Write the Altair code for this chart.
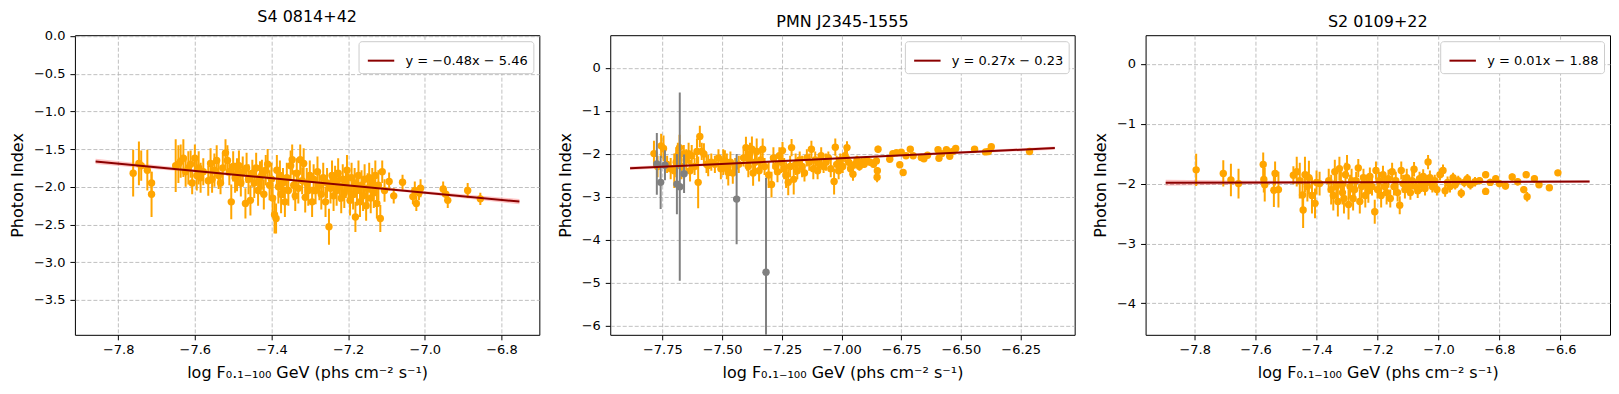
import altair as alt
import pandas as pd

FONT = "DejaVu Sans"
ORANGE = "#FFA500"
GRAY = "#808080"
DARKRED = "#8B0000"
XTITLE = "log F₀.₁₋₁₀₀ GeV (phs cm⁻² s⁻¹)"

# ---------------- Panel 1: S4 0814+42 ----------------
p1_title = "S4 0814+42"
p1_label = "y = −0.48x − 5.46"
p1_pts = [
    (-7.761,-1.82,0.31),(-7.746,-1.69,0.29),(-7.740,-1.72,0.20),(-7.724,-1.78,0.27),(-7.713,-1.95,0.15),(-7.713,-2.10,0.30),
    (-7.650,-1.72,0.35),(-7.643,-1.70,0.25),(-7.637,-1.66,0.22),(-7.630,-1.62,0.25),(-7.624,-1.80,0.20),(-7.617,-1.75,0.22),
    (-7.611,-1.70,0.18),(-7.607,-1.95,0.15),(-7.600,-1.62,0.18),(-7.595,-1.85,0.20),(-7.590,-1.75,0.22),(-7.585,-1.88,0.20),
    (-7.578,-1.80,0.18),(-7.565,-1.92,0.20),(-7.559,-1.69,0.20),(-7.555,-1.90,0.18),(-7.549,-1.78,0.22),(-7.543,-1.65,0.20),
    (-7.538,-1.85,0.18),(-7.533,-1.95,0.15),(-7.527,-1.75,0.20),(-7.520,-1.55,0.18),(-7.515,-1.65,0.20),(-7.510,-1.80,0.18),
    (-7.505,-2.20,0.23),(-7.500,-1.73,0.20),(-7.495,-1.88,0.20),(-7.490,-1.84,0.22),(-7.485,-1.72,0.20),(-7.480,-1.95,0.18),
    (-7.475,-1.80,0.20),(-7.468,-2.22,0.20),(-7.465,-1.75,0.20),(-7.460,-1.90,0.20),(-7.455,-2.18,0.20),(-7.450,-1.82,0.18),
    (-7.445,-1.95,0.20),(-7.440,-1.75,0.20),(-7.435,-2.05,0.20),(-7.430,-1.88,0.22),(-7.425,-1.84,0.20),(-7.420,-2.10,0.20),
    (-7.415,-1.78,0.20),(-7.410,-1.70,0.20),(-7.405,-1.98,0.20),(-7.400,-1.90,0.22),(-7.397,-2.15,0.20),(-7.392,-2.37,0.25),
    (-7.388,-2.42,0.20),(-7.386,-1.78,0.20),(-7.382,-2.00,0.22),(-7.378,-1.85,0.20),(-7.375,-2.10,0.25),(-7.370,-1.95,0.20),
    (-7.365,-2.20,0.20),(-7.360,-1.88,0.20),(-7.356,-2.05,0.20),(-7.350,-1.72,0.20),(-7.346,-1.64,0.20),(-7.342,-1.98,0.20),
    (-7.338,-2.12,0.20),(-7.334,-1.82,0.20),(-7.330,-2.02,0.20),(-7.325,-1.64,0.20),(-7.320,-1.92,0.18),(-7.316,-1.69,0.20),
    (-7.312,-2.14,0.20),(-7.308,-1.95,0.20),(-7.304,-2.05,0.20),(-7.300,-1.85,0.20),(-7.294,-2.20,0.20),(-7.290,-1.90,0.20),
    (-7.285,-2.05,0.18),(-7.280,-1.80,0.20),(-7.275,-1.98,0.20),(-7.270,-2.10,0.20),(-7.265,-1.88,0.20),(-7.259,-2.20,0.20),
    (-7.255,-1.95,0.20),(-7.250,-2.53,0.24),(-7.246,-2.02,0.20),(-7.242,-1.85,0.20),(-7.238,-2.12,0.20),(-7.234,-1.92,0.20),
    (-7.230,-2.05,0.20),(-7.226,-1.82,0.20),(-7.222,-2.00,0.20),(-7.218,-2.15,0.20),(-7.214,-1.90,0.20),(-7.210,-2.08,0.20),
    (-7.206,-1.95,0.20),(-7.203,-1.78,0.20),(-7.199,-2.02,0.20),(-7.195,-2.18,0.20),(-7.191,-1.88,0.20),(-7.187,-2.10,0.20),
    (-7.183,-1.95,0.20),(-7.181,-2.40,0.20),(-7.177,-2.05,0.20),(-7.173,-1.85,0.20),(-7.169,-2.20,0.20),(-7.165,-1.98,0.20),
    (-7.161,-2.12,0.20),(-7.157,-1.90,0.20),(-7.153,-2.25,0.20),(-7.149,-2.02,0.20),(-7.145,-1.88,0.20),(-7.141,-2.15,0.20),
    (-7.137,-1.95,0.20),(-7.133,-2.08,0.20),(-7.129,-1.85,0.20),(-7.125,-2.22,0.20),(-7.121,-1.98,0.20),(-7.116,-2.42,0.18),
    (-7.111,-1.80,0.15),(-7.105,-2.05,0.15),(-7.093,-1.93,0.12),(-7.081,-2.12,0.10),(-7.058,-1.94,0.10),(-7.031,-2.13,0.10),
    (-7.026,-2.05,0.12),(-7.022,-2.22,0.10),(-7.015,-2.08,0.10),(-7.011,-2.02,0.12),(-6.952,-2.03,0.10),(-6.945,-2.10,0.08),
    (-6.940,-2.18,0.10),(-6.888,-2.05,0.10),(-6.855,-2.16,0.08),
]
p1_gray = []
p1_line_x = [-7.859, -6.753]
p1_line_y = [-1.664, -2.196]
p1_band_x = [-7.859, -7.6, -7.3, -7.0, -6.753]
p1_band_lo = [-1.699, -1.811, -1.946, -2.097, -2.231]
p1_band_hi = [-1.629, -1.767, -1.920, -2.057, -2.161]
p1_xdom = [-7.913, -6.701]
p1_ydom = [-3.963, 0.01]
p1_xticks = [-7.8, -7.6, -7.4, -7.2, -7.0, -6.8]
p1_yticks = [0.0, -0.5, -1.0, -1.5, -2.0, -2.5, -3.0, -3.5]

# ---------------- Panel 2: PMN J2345-1555 ----------------
p2_title = "PMN J2345-1555"
p2_label = "y = 0.27x − 0.23"
p2_pts = [
    (-7.785,-2.00,0.30),(-7.770,-2.30,0.25),(-7.755,-1.82,0.28),(-7.745,-1.88,0.30),(-7.730,-2.25,0.20),(-7.715,-2.35,0.25),
    (-7.700,-2.40,0.40),(-7.692,-2.20,0.35),(-7.685,-2.05,0.30),(-7.678,-1.86,0.30),(-7.670,-2.30,0.30),(-7.660,-2.00,0.20),
    (-7.650,-2.15,0.25),(-7.640,-2.00,0.25),(-7.634,-2.40,0.25),(-7.627,-2.05,0.25),(-7.615,-2.30,0.20),(-7.605,-1.95,0.30),
    (-7.600,-2.67,0.60),(-7.593,-1.60,0.25),(-7.585,-1.95,0.20),(-7.576,-2.01,0.25),(-7.565,-2.25,0.20),(-7.558,-2.28,0.25),
    (-7.545,-2.20,0.20),(-7.530,-2.25,0.20),(-7.515,-2.10,0.20),(-7.505,-2.35,0.25),(-7.495,-2.20,0.30),(-7.488,-2.17,0.25),
    (-7.480,-2.30,0.30),(-7.474,-2.44,0.30),(-7.465,-2.20,0.25),(-7.455,-2.45,0.25),(-7.445,-2.30,0.20),(-7.430,-2.25,0.20),
    (-7.410,-2.10,0.20),(-7.400,-1.86,0.25),(-7.395,-2.10,0.30),(-7.390,-2.30,0.25),(-7.383,-2.00,0.25),(-7.375,-1.90,0.30),
    (-7.370,-2.45,0.30),(-7.362,-2.20,0.25),(-7.355,-1.95,0.30),(-7.345,-2.40,0.25),(-7.338,-2.15,0.25),(-7.330,-1.90,0.25),
    (-7.322,-2.30,0.20),(-7.305,-2.50,0.30),(-7.293,-2.72,0.30),(-7.285,-2.10,0.25),(-7.275,-2.30,0.20),(-7.268,-2.42,0.25),
    (-7.260,-2.05,0.20),(-7.252,-2.20,0.25),(-7.247,-1.93,0.20),(-7.240,-2.35,0.25),(-7.232,-2.50,0.30),(-7.223,-2.67,0.30),
    (-7.215,-2.30,0.25),(-7.209,-1.86,0.20),(-7.200,-2.60,0.35),(-7.192,-2.25,0.25),(-7.185,-2.40,0.20),(-7.175,-2.15,0.20),
    (-7.165,-2.30,0.25),(-7.155,-2.45,0.20),(-7.145,-2.10,0.20),(-7.135,-2.20,0.20),(-7.126,-1.90,0.20),(-7.118,-2.35,0.25),
    (-7.110,-2.15,0.20),(-7.100,-2.40,0.20),(-7.092,-2.25,0.20),(-7.085,-2.05,0.20),(-7.075,-2.30,0.15),(-7.065,-2.20,0.20),
    (-7.055,-2.10,0.15),(-7.045,-2.35,0.20),(-7.031,-2.65,0.30),(-7.026,-1.85,0.20),(-7.020,-2.25,0.20),(-7.012,-2.40,0.20),
    (-7.005,-2.15,0.15),(-6.995,-2.30,0.15),(-6.985,-2.05,0.15),(-6.977,-1.86,0.15),(-6.970,-2.20,0.15),(-6.962,-2.35,0.15),
    (-6.952,-2.48,0.15),(-6.945,-2.25,0.10),(-6.935,-2.15,0.10),(-6.925,-2.30,0.10),(-6.915,-2.20,0.10),(-6.905,-2.25,0.08),
    (-6.895,-2.15,0.08),(-6.880,-2.20,0.08),(-6.866,-2.25,0.08),(-6.854,-2.17,0.08),(-6.850,-2.40,0.08),(-6.851,-2.55,0.12),
    (-6.847,-1.90,0.08),(-6.798,-2.13,0.06),(-6.785,-2.00,0.06),(-6.770,-1.98,0.06),(-6.756,-2.26,0.06),(-6.750,-1.97,0.06),
    (-6.742,-2.44,0.08),(-6.730,-2.05,0.06),(-6.712,-1.90,0.05),(-6.700,-2.05,0.05),(-6.666,-2.09,0.05),(-6.655,-2.12,0.05),
    (-6.640,-2.04,0.05),(-6.596,-1.91,0.05),(-6.592,-2.11,0.05),(-6.580,-2.00,0.05),(-6.561,-1.91,0.05),(-6.547,-2.06,0.05),
    (-6.535,-1.95,0.05),(-6.522,-1.88,0.05),(-6.443,-1.90,0.05),(-6.397,-1.96,0.05),(-6.385,-1.95,0.05),(-6.373,-1.84,0.05),
    (-6.213,-1.95,0.05),
]
p2_gray = [
    (-7.773,-2.24,0.72),(-7.757,-2.67,0.62),(-7.739,-2.27,0.35),(-7.689,-2.71,0.70),(-7.677,-2.77,2.19),
    (-7.659,-2.47,0.45),(-7.439,-3.06,1.05),(-7.316,-4.76,2.20),
]
p2_line_x = [-7.885, -6.107]
p2_line_y = [-2.343, -1.872]
p2_band_x = [-7.885, -7.5, -7.1, -6.6, -6.107]
p2_band_lo = [-2.383, -2.266, -2.150, -2.027, -1.912]
p2_band_hi = [-2.303, -2.216, -2.120, -1.977, -1.832]
p2_xdom = [-7.968, -6.024]
p2_ydom = [-6.22, 0.757]
p2_xticks = [-7.75, -7.5, -7.25, -7.0, -6.75, -6.5, -6.25]
p2_yticks = [0, -1, -2, -3, -4, -5, -6]

# ---------------- Panel 3: S2 0109+22 ----------------
p3_title = "S2 0109+22"
p3_label = "y = 0.01x − 1.88"
p3_pts = [
    (-7.795,-1.77,0.27),(-7.706,-1.83,0.22),(-7.681,-1.94,0.27),(-7.656,-2.00,0.25),(-7.575,-1.68,0.20),(-7.573,-1.93,0.22),
    (-7.570,-2.02,0.28),(-7.536,-1.83,0.20),(-7.540,-2.11,0.28),(-7.525,-2.10,0.30),
    (-7.476,-1.86,0.15),(-7.465,-1.80,0.25),(-7.455,-1.95,0.30),(-7.446,-2.19,0.28),(-7.444,-2.44,0.30),(-7.438,-1.85,0.30),
    (-7.430,-2.05,0.25),(-7.425,-1.90,0.28),(-7.415,-2.20,0.30),(-7.405,-2.33,0.25),(-7.400,-1.98,0.20),(-7.390,-2.00,0.20),
    (-7.360,-1.95,0.20),(-7.352,-2.10,0.25),(-7.345,-2.20,0.25),(-7.340,-1.80,0.20),(-7.335,-2.05,0.20),(-7.330,-2.30,0.25),
    (-7.325,-1.75,0.20),(-7.320,-2.00,0.20),(-7.315,-2.15,0.20),(-7.310,-2.25,0.25),(-7.305,-1.85,0.20),(-7.300,-1.72,0.20),
    (-7.295,-2.35,0.25),(-7.290,-2.05,0.20),(-7.285,-1.95,0.20),(-7.280,-2.25,0.20),(-7.275,-2.10,0.20),(-7.270,-1.95,0.15),
    (-7.263,-1.74,0.15),(-7.258,-2.30,0.20),(-7.252,-2.05,0.20),(-7.246,-1.90,0.15),(-7.240,-2.20,0.20),(-7.235,-2.00,0.15),
    (-7.230,-2.12,0.20),(-7.225,-1.88,0.15),(-7.218,-2.05,0.15),(-7.209,-2.47,0.20),(-7.205,-1.78,0.15),(-7.200,-2.10,0.15),
    (-7.195,-1.95,0.15),(-7.188,-2.20,0.20),(-7.182,-1.85,0.15),(-7.176,-2.05,0.15),(-7.170,-2.15,0.20),(-7.164,-1.92,0.15),
    (-7.158,-2.25,0.15),(-7.152,-1.80,0.15),(-7.146,-2.05,0.15),(-7.140,-1.95,0.15),(-7.134,-2.15,0.15),(-7.127,-2.36,0.15),
    (-7.122,-1.78,0.15),(-7.116,-2.00,0.15),(-7.110,-2.10,0.15),(-7.104,-1.90,0.15),(-7.098,-2.05,0.15),(-7.092,-2.15,0.12),
    (-7.086,-1.95,0.15),(-7.080,-1.76,0.12),(-7.074,-2.05,0.12),(-7.068,-2.12,0.12),(-7.062,-1.92,0.12),(-7.056,-2.02,0.12),
    (-7.050,-1.88,0.12),(-7.044,-2.08,0.12),(-7.038,-1.98,0.12),(-7.034,-1.64,0.12),(-7.028,-1.90,0.12),(-7.020,-2.05,0.10),
    (-7.012,-1.95,0.10),(-7.005,-2.10,0.10),
    (-6.995,-1.85,0.10),(-6.985,-1.78,0.10),(-6.978,-2.12,0.10),(-6.970,-1.98,0.10),(-6.962,-2.05,0.10),(-6.952,-1.90,0.08),
    (-6.945,-2.02,0.08),(-6.935,-1.95,0.08),(-6.925,-2.16,0.08),(-6.915,-1.98,0.08),(-6.905,-1.92,0.08),(-6.895,-2.02,0.08),
    (-6.880,-1.97,0.08),(-6.865,-1.95,0.06),(-6.845,-1.85,0.06),(-6.845,-2.13,0.06),(-6.830,-1.98,0.06),(-6.812,-1.92,0.06),
    (-6.800,-2.00,0.06),(-6.780,-2.04,0.06),(-6.758,-1.89,0.06),(-6.740,-1.97,0.06),(-6.720,-2.10,0.06),(-6.712,-1.85,0.06),
    (-6.709,-2.22,0.08),(-6.685,-1.92,0.06),(-6.670,-2.02,0.05),(-6.636,-2.07,0.05),(-6.608,-1.82,0.05),
]
p3_gray = []
p3_line_x = [-7.895, -6.504]
p3_line_y = [-1.985, -1.966]
p3_band_x = [-7.895, -7.6, -7.2, -6.8, -6.504]
p3_band_lo = [-2.035, -2.011, -1.987, -1.985, -1.986]
p3_band_hi = [-1.935, -1.951, -1.963, -1.955, -1.946]
p3_xdom = [-7.961, -6.437]
p3_ydom = [-4.527, 0.48]
p3_xticks = [-7.8, -7.6, -7.4, -7.2, -7.0, -6.8, -6.6]
p3_yticks = [0, -1, -2, -3, -4]

W, H = 465, 300


def pts_df(pts):
    df = pd.DataFrame(pts, columns=["x", "y", "e"])
    df["lo"] = df["y"] - df["e"]
    df["hi"] = df["y"] + df["e"]
    return df


def panel(title, label, pts, gray, lx, ly, bx, blo, bhi, xdom, ydom, xticks, yticks, xfmt, yfmt):
    xs = alt.Scale(domain=xdom, nice=False, zero=False)
    ys = alt.Scale(domain=ydom, nice=False, zero=False)
    xax = alt.Axis(values=xticks, format=xfmt, title=XTITLE)
    yax = alt.Axis(values=yticks, format=yfmt, title="Photon Index")

    band_df = pd.DataFrame({"x": bx, "lo": blo, "hi": bhi})
    line_df = pd.DataFrame({"x": lx, "y": ly, "label": [label] * len(lx)})
    df = pts_df(pts)

    band = alt.Chart(band_df).mark_area(color="#ff3030", opacity=0.28, clip=True).encode(
        x=alt.X("x:Q", scale=xs, axis=xax),
        y=alt.Y("lo:Q", scale=ys, axis=yax),
        y2="hi:Q",
    )
    ebar = alt.Chart(df).mark_rule(color=ORANGE, strokeWidth=2, clip=True).encode(
        x=alt.X("x:Q", scale=xs, axis=xax),
        y=alt.Y("lo:Q", scale=ys, axis=yax),
        y2="hi:Q",
    )
    dots = alt.Chart(df).mark_circle(color=ORANGE, size=55, opacity=1, clip=True).encode(
        x=alt.X("x:Q", scale=xs, axis=xax),
        y=alt.Y("y:Q", scale=ys, axis=yax),
    )
    layers = [band, ebar, dots]
    if gray:
        gdf = pts_df(gray)
        layers.append(alt.Chart(gdf).mark_rule(color=GRAY, strokeWidth=2, clip=True).encode(
            x=alt.X("x:Q", scale=xs, axis=xax),
            y=alt.Y("lo:Q", scale=ys, axis=yax),
            y2="hi:Q",
        ))
        layers.append(alt.Chart(gdf).mark_circle(color=GRAY, size=55, opacity=1, clip=True).encode(
            x=alt.X("x:Q", scale=xs, axis=xax),
            y=alt.Y("y:Q", scale=ys, axis=yax),
        ))
    line = alt.Chart(line_df).mark_line(strokeWidth=2, clip=True).encode(
        x=alt.X("x:Q", scale=xs, axis=xax),
        y=alt.Y("y:Q", scale=ys, axis=yax),
        color=alt.Color(
            "label:N",
            scale=alt.Scale(domain=[label], range=[DARKRED]),
            legend=alt.Legend(
                title=None, orient="top-right", offset=6,
                symbolType="stroke", symbolSize=700, symbolStrokeWidth=2,
                labelFontSize=13, labelFont=FONT, labelColor="black", labelOffset=10,
                padding=5, symbolOffset=3,
                strokeColor="#cccccc", fillColor="white", cornerRadius=3,
            ),
        ),
    )
    layers.append(line)
    return alt.layer(*layers).properties(
        width=W, height=H,
        title=alt.TitleParams(title, fontSize=16, font=FONT, fontWeight="normal", color="black", offset=5),
    )


c1 = panel(p1_title, p1_label, p1_pts, p1_gray, p1_line_x, p1_line_y, p1_band_x, p1_band_lo, p1_band_hi,
           p1_xdom, p1_ydom, p1_xticks, p1_yticks, ".1f", ".1f")
c2 = panel(p2_title, p2_label, p2_pts, p2_gray, p2_line_x, p2_line_y, p2_band_x, p2_band_lo, p2_band_hi,
           p2_xdom, p2_ydom, p2_xticks, p2_yticks, ".2f", "d")
c3 = panel(p3_title, p3_label, p3_pts, p3_gray, p3_line_x, p3_line_y, p3_band_x, p3_band_lo, p3_band_hi,
           p3_xdom, p3_ydom, p3_xticks, p3_yticks, ".1f", "d")

chart = alt.hconcat(c1, c2, c3, spacing=71, bounds="flush").resolve_scale(
    color="independent"
).resolve_legend(color="independent").properties(
    padding={"left": 0, "top": 0, "right": 0, "bottom": 0}
).configure_view(
    stroke="black", strokeWidth=1
).configure_axis(
    domain=False,
    grid=True, gridColor="#b0b0b0", gridDash=[4, 2], gridWidth=0.8,
    tickColor="black", tickSize=5, tickWidth=1,
    labelFont=FONT, labelFontSize=13, labelColor="black", labelPadding=4,
    titleFont=FONT, titleFontSize=16, titleFontWeight="normal", titleColor="black", titlePadding=8,
).configure_axisY(labelPadding=5)

chart.save("out.html", embed_options={"renderer": "svg", "actions": False})
